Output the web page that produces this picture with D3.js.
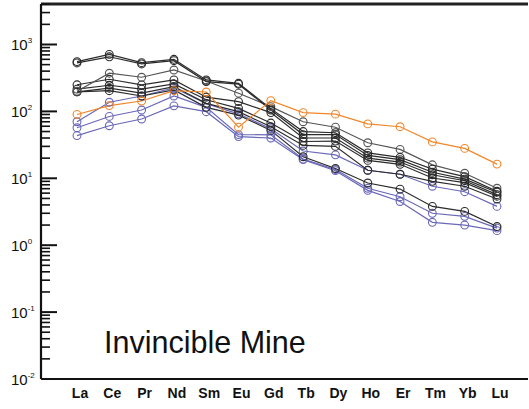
<!DOCTYPE html>
<html>
<head>
<meta charset="utf-8">
<script src="https://cdn.jsdelivr.net/npm/d3@7/dist/d3.min.js"></script>
<style>
  html, body { margin: 0; padding: 0; background: #fff; }
  svg { display: block; }
</style>
</head>
<body>
<svg id="chart" width="529" height="409"></svg>
<script>
// Rare earth elements along the x axis
const elements = ["La","Ce","Pr","Nd","Sm","Eu","Gd","Tb","Dy","Ho","Er","Tm","Yb","Lu"];

// Chondrite-normalised REE patterns, Invincible Mine samples
const sampleOrange = [90, 122, 143, 204, 195, 58, 145, 96, 91, 65, 59, 35, 28, 16.3];
const sampleK1 = [555, 712, 535, 601, 295, 263, 110, 50, 48, 24, 20.6, 13.7, 10.6, 6.4];
const sampleK2 = [530, 655, 512, 573, 279, 255, 105, 45, 45, 22, 19, 12.3, 9.7, 6.2];
const sampleK3 = [200, 372, 324, 416, 285, 187, 118, 70, 58, 34, 27, 15.9, 11.9, 7.1];
const sampleK4 = [250, 302, 249, 295, 163, 140, 96, 40, 40, 20, 17.5, 11.3, 9.2, 5.7];
const sampleK5 = [215, 246, 215, 257, 149, 111, 67, 35.5, 36, 18.5, 16.2, 10.1, 8.6, 5.4];
const sampleK6 = [196, 222, 187, 235, 132, 99, 59, 31, 30, 13.2, 11.5, 9.0, 7.6, 4.9];
const sampleK7 = [196, 204, 170, 209, 115, 88, 52, 21, 14, 8.5, 6.9, 3.8, 3.2, 1.9];
const sampleB1 = [70, 137, 170, 225, 130, 92, 55, 25.6, 22.4, 13.2, 11.5, 7.6, 6.3, 3.8];
const sampleB2 = [57, 84, 105, 170, 115, 45, 44.6, 19.4, 13.5, 7.1, 5.3, 3.0, 2.7, 1.8];
const sampleB3 = [43.5, 61, 77, 121, 99, 42, 40, 19, 13, 6.6, 4.5, 2.2, 2.0, 1.65];

// Y axis decades
const decadeExponents = [-2, -1, 0, 1, 2, 3];
const siteLabel = "Invincible Mine";

const series = [
  { values: sampleB3, color: "#6a68b8" },
  { values: sampleB2, color: "#6a68b8" },
  { values: sampleB1, color: "#6a68b8" },
  { values: sampleK7, color: "#2b2b2b" },
  { values: sampleK6, color: "#2b2b2b" },
  { values: sampleK5, color: "#2b2b2b" },
  { values: sampleK4, color: "#2b2b2b" },
  { values: sampleK3, color: "#555555" },
  { values: sampleK2, color: "#2b2b2b" },
  { values: sampleK1, color: "#2b2b2b" },
  { values: sampleOrange, color: "#f0862a" }
];

const svg = d3.select("#chart");
const plotLeft = 41, plotTop = 4, plotBottom = 379, plotRight = 528;

const x = d3.scalePoint().domain(elements).range([77, 497]);
const y = d3.scaleLog().domain([0.01, 4030]).range([plotBottom, plotTop]);

// Frame: top and bottom rules
svg.append("line").attr("x1", plotLeft).attr("x2", plotRight).attr("y1", plotTop).attr("y2", plotTop)
  .attr("stroke", "#222").attr("stroke-width", 3);
svg.append("line").attr("x1", plotLeft).attr("x2", plotRight).attr("y1", plotBottom).attr("y2", plotBottom)
  .attr("stroke", "#111").attr("stroke-width", 2);

// Left log axis with inward ticks
const yAxis = svg.append("g").attr("transform", `translate(${plotLeft},0)`);
yAxis.append("line").attr("x1", 0).attr("x2", 0).attr("y1", plotTop).attr("y2", plotBottom)
  .attr("stroke", "#111").attr("stroke-width", 2.2);
const allTicks = y.ticks(60).filter(t => t >= 0.01 && t <= 4030);
allTicks.forEach(t => {
  const e = Math.log10(t);
  const major = Math.abs(e - Math.round(e)) < 1e-9;
  yAxis.append("line")
    .attr("x1", 0).attr("x2", major ? 16 : 9)
    .attr("y1", y(t)).attr("y2", y(t))
    .attr("stroke", "#111").attr("stroke-width", major ? 2 : 1.6);
});
decadeExponents.forEach(p => {
  const yy = y(Math.pow(10, p));
  const g = svg.append("text")
    .attr("x", 11).attr("y", yy + 5.5)
    .attr("font-family", "Liberation Sans, Arial, sans-serif")
    .attr("font-size", 15).attr("fill", "#111");
  g.append("tspan").text("10");
  g.append("tspan").attr("font-size", 8).attr("dy", -7).text(String(p));
});

// X labels
svg.append("g").selectAll("text").data(elements).join("text")
  .attr("x", d => x(d) + 3).attr("y", 398)
  .attr("text-anchor", "middle")
  .attr("font-family", "Liberation Sans, Arial, sans-serif")
  .attr("font-weight", "bold").attr("font-size", 14).attr("fill", "#111")
  .text(d => d);

// Lines then markers
const line = d3.line().x((d, i) => x(elements[i])).y(d => y(d));
const plot = svg.append("g");
series.forEach(s => {
  plot.append("path").datum(s.values)
    .attr("d", line).attr("fill", "none")
    .attr("stroke", s.color).attr("stroke-width", 1.2);
});
series.forEach(s => {
  plot.append("g").selectAll("circle").data(s.values).join("circle")
    .attr("cx", (d, i) => x(elements[i])).attr("cy", d => y(d))
    .attr("r", 3.9).attr("fill", "none")
    .attr("stroke", s.color).attr("stroke-width", 1.1);
});

// Site name
svg.append("text")
  .attr("x", 104).attr("y", 353)
  .attr("font-family", "Liberation Sans, Arial, sans-serif")
  .attr("font-size", 30.5).attr("fill", "#111")
  .text(siteLabel);
</script>
</body>
</html>
